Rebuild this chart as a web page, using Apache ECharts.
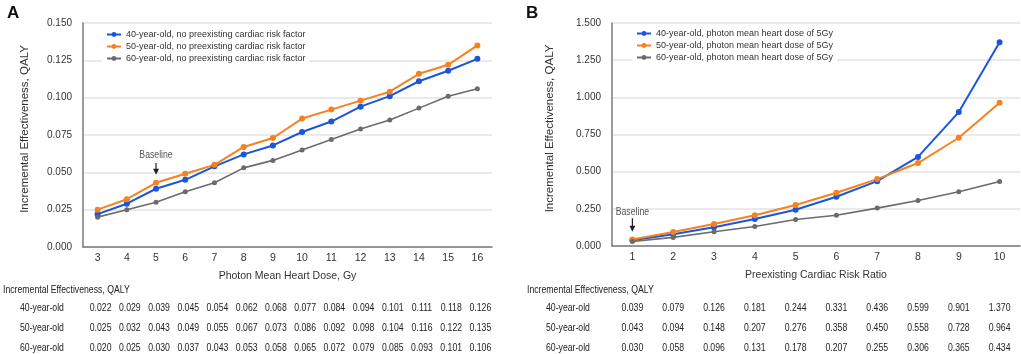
<!DOCTYPE html>
<html><head><meta charset="utf-8">
<script src="https://cdn.jsdelivr.net/npm/echarts@6/dist/echarts.min.js"></script>
<style>html,body{margin:0;padding:0;background:#fff}#c{width:1021px;height:354px}</style>
</head><body><div id="c"></div>
<script>
const doseCats = ['3','4','5','6','7','8','9','10','11','12','13','14','15','16'];
const doseA40 = [0.022,0.029,0.039,0.045,0.054,0.062,0.068,0.077,0.084,0.094,0.101,0.111,0.118,0.126];
const doseA50 = [0.025,0.032,0.043,0.049,0.055,0.067,0.073,0.086,0.092,0.098,0.104,0.116,0.122,0.135];
const doseA60 = [0.020,0.025,0.030,0.037,0.043,0.053,0.058,0.065,0.072,0.079,0.085,0.093,0.101,0.106];
const riskCats = ['1','2','3','4','5','6','7','8','9','10'];
const riskB40 = [0.039,0.079,0.126,0.181,0.244,0.331,0.436,0.599,0.901,1.370];
const riskB50 = [0.043,0.094,0.148,0.207,0.276,0.358,0.450,0.558,0.728,0.964];
const riskB60 = [0.030,0.058,0.096,0.131,0.178,0.207,0.255,0.306,0.365,0.434];
const namesA = ['40-year-old, no preexisting cardiac risk factor','50-year-old, no preexisting cardiac risk factor','60-year-old, no preexisting cardiac risk factor'];
const namesB = ['40-year-old, photon mean heart dose of 5Gy','50-year-old, photon mean heart dose of 5Gy','60-year-old, photon mean heart dose of 5Gy'];
const rowLabels = ['40-year-old','50-year-old','60-year-old'];
const yTicksA = [0, 0.15, 0.025];
const yTicksB = [0, 1.5, 0.25];

const FONT = '"Liberation Sans", Arial, sans-serif';
const colors = ['#1a56db','#f5821f','#6b6b6b'];
const SX = 0.79;
const chart = echarts.init(document.getElementById('c'), null, {renderer:'canvas'});

function mkSeries(name, data, xi, ci){
  return {name, type:'line', xAxisIndex:xi, yAxisIndex:xi, data,
    symbol:'circle', symbolSize: ci===2?5:6, showSymbol:true,
    lineStyle:{width: ci===2?1.6:2, color:colors[ci]},
    itemStyle:{color:colors[ci]}, animation:false};
}
const axisCommonX = {type:'category', boundaryGap:true,
  axisLine:{lineStyle:{color:'#7a7a7a', width:1.5}}, axisTick:{show:false},
  axisLabel:{color:'#333', fontSize:10.5, margin:6, fontFamily:FONT},
  nameLocation:'middle', nameGap:24, nameTextStyle:{color:'#333', fontSize:10.5, fontFamily:FONT}};
function yAx(t, gi, gap){
  return {type:'value', gridIndex:gi, min:t[0], max:t[1], interval:t[2],
    axisLine:{show:true, lineStyle:{color:'#7a7a7a', width:1.5}}, axisTick:{show:false},
    splitLine:{lineStyle:{color:'#e3e3e3', width:1.5}},
    axisLabel:{color:'#333', fontSize:10, margin:11, fontFamily:FONT, formatter:v=>v.toFixed(3)},
    name:'Incremental Effectiveness, QALY', nameLocation:'middle', nameGap:gap,
    nameTextStyle:{color:'#333', fontSize:11.5, fontFamily:FONT, padding:[0,0,0,12]}};
}
const legendCommon = {orient:'vertical', itemWidth:14, itemHeight:6, itemGap:3,
  backgroundColor:'#fff', padding:[2,4,2,4],
  textStyle:{color:'#333', fontSize:9, fontFamily:FONT}};

chart.setOption({
  animation:false,
  textStyle:{fontFamily:FONT},
  grid:[{left:83, top:23, width:409, height:224},{left:612, top:23, width:408, height:223}],
  xAxis:[Object.assign({}, axisCommonX, {gridIndex:0, data:doseCats, name:'Photon Mean Heart Dose, Gy'}),
         Object.assign({}, axisCommonX, {gridIndex:1, data:riskCats, name:'Preexisting Cardiac Risk Ratio'})],
  yAxis:[yAx(yTicksA,0,52), yAx(yTicksB,1,56)],
  legend:[Object.assign({}, legendCommon, {data:namesA, left:102, top:28}),
          Object.assign({}, legendCommon, {data:namesB, left:632, top:27})],
  series:[mkSeries(namesA[0],doseA40,0,0), mkSeries(namesA[1],doseA50,0,1), mkSeries(namesA[2],doseA60,0,2),
          mkSeries(namesB[0],riskB40,1,0), mkSeries(namesB[1],riskB50,1,1), mkSeries(namesB[2],riskB60,1,2)]
});

const g = [];
g.push({type:'text', left:7, top:5, style:{text:'A', font:'bold 17px '+FONT, fill:'#111'}});
g.push({type:'text', left:526, top:5, style:{text:'B', font:'bold 17px '+FONT, fill:'#111'}});

function txt(x, y, text, align, fill){
  return {type:'text', x:x, y:y, scaleX:SX, style:{x:0, y:0, text:text, font:'11px '+FONT, fill:fill||'#222', align:align||'left', verticalAlign:'middle'}};
}
function baseline(xi, cat, vText, vA, vB){
  const pt = chart.convertToPixel({xAxisIndex:xi, yAxisIndex:xi}, [cat, vText]);
  const p1 = chart.convertToPixel({xAxisIndex:xi, yAxisIndex:xi}, [cat, vA]);
  const p2 = chart.convertToPixel({xAxisIndex:xi, yAxisIndex:xi}, [cat, vB]);
  g.push(txt(pt[0], pt[1], 'Baseline', 'center', '#555'));
  g.push({type:'line', shape:{x1:p1[0], y1:p1[1], x2:p2[0], y2:p2[1]-3}, style:{stroke:'#222', lineWidth:1.2}});
  g.push({type:'polygon', shape:{points:[[p2[0]-3,p2[1]-5],[p2[0]+3,p2[1]-5],[p2[0],p2[1]+1]]}, style:{fill:'#222'}});
}
baseline(0, '5', 0.0617, 0.0562, 0.0490);
baseline(1, '1', 0.229, 0.186, 0.103);

function table(xi, cats, rows, hx, lx, dx){
  const rowsY = [308, 328, 348];
  g.push(txt(hx, 290, 'Incremental Effectiveness, QALY'));
  rows.forEach((arr, r) => {
    g.push(txt(lx, rowsY[r], rowLabels[r]));
    arr.forEach((v, i) => {
      const px = chart.convertToPixel({xAxisIndex:xi}, cats[i]);
      g.push(txt(px+dx, rowsY[r], v.toFixed(3), 'center'));
    });
  });
}
table(0, doseCats, [doseA40, doseA50, doseA60], 3, 20, 3);
table(1, riskCats, [riskB40, riskB50, riskB60], 527, 546, 0);

chart.setOption({graphic:g});
</script></body></html>
